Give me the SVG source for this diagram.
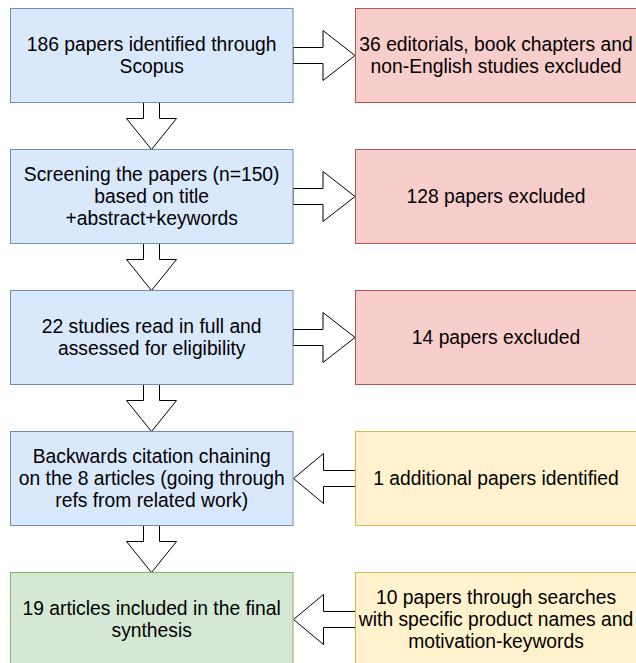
<svg xmlns="http://www.w3.org/2000/svg" width="636" height="663" viewBox="0 0 636 663">
<style>
.blue{fill:#dae8fc;stroke:#6c8ebf;stroke-width:1}
.red{fill:#f8cecc;stroke:#b85450;stroke-width:1}
.yellow{fill:#fff2cc;stroke:#d6b656;stroke-width:1}
.green{fill:#d5e8d4;stroke:#82b366;stroke-width:1}
.arrow{fill:#ffffff;stroke:#000000;stroke-width:1;stroke-linejoin:miter}
text{font-family:"Liberation Sans",Arial,Helvetica,sans-serif;font-size:19.3px;fill:#000000;text-anchor:middle}
</style>
<rect x="0" y="0" width="636" height="663" fill="#ffffff"/>
<g id="connectors">
<polygon class="arrow" points="293,47.5 323,47.5 323,30.5 355,55.5 323,80.5 323,63.5 293,63.5"/>
<polygon class="arrow" points="293,188.5 323,188.5 323,171.5 355,196.5 323,221.5 323,204.5 293,204.5"/>
<polygon class="arrow" points="293,329.5 323,329.5 323,312.5 355,337.5 323,362.5 323,345.5 293,345.5"/>
<polygon class="arrow" points="355.5,470.5 323.5,470.5 323.5,453.5 293.5,478.5 323.5,503.5 323.5,486.5 355.5,486.5"/>
<polygon class="arrow" points="355.5,611.5 323.5,611.5 323.5,594.5 293.5,619.5 323.5,644.5 323.5,627.5 355.5,627.5"/>
<polygon class="arrow" points="143.5,102.5 159.5,102.5 159.5,118.5 176.5,118.5 151.5,149.5 126.5,118.5 143.5,118.5"/>
<polygon class="arrow" points="143.5,243.5 159.5,243.5 159.5,259.5 176.5,259.5 151.5,290.5 126.5,259.5 143.5,259.5"/>
<polygon class="arrow" points="143.5,384.5 159.5,384.5 159.5,400.5 176.5,400.5 151.5,431.5 126.5,400.5 143.5,400.5"/>
<polygon class="arrow" points="143.5,525.5 159.5,525.5 159.5,541.5 176.5,541.5 151.5,572.5 126.5,541.5 143.5,541.5"/>
</g>
<g id="n1">
<rect class="blue" x="10.5" y="8.5" width="282.5" height="94"/>
<text x="151.7" y="51.2">186 papers identified through</text>
<text x="151.7" y="73.2">Scopus</text>
</g>
<g id="n2">
<rect class="red" x="355.5" y="8.5" width="281" height="94"/>
<text x="496" y="51.2">36 editorials, book chapters and</text>
<text x="496" y="73.2">non-English studies excluded</text>
</g>
<g id="n3">
<rect class="blue" x="10.5" y="149.5" width="282.5" height="94"/>
<text x="151.7" y="181.2">Screening the papers (n=150)</text>
<text x="151.7" y="203.2">based on title</text>
<text x="151.7" y="225.2">+abstract+keywords</text>
</g>
<g id="n4">
<rect class="red" x="355.5" y="149.5" width="281" height="94"/>
<text x="496" y="203.2">128 papers excluded</text>
</g>
<g id="n5">
<rect class="blue" x="10.5" y="290.5" width="282.5" height="94"/>
<text x="151.7" y="333.2">22 studies read in full and</text>
<text x="151.7" y="355.2">assessed for eligibility</text>
</g>
<g id="n6">
<rect class="red" x="355.5" y="290.5" width="281" height="94"/>
<text x="496" y="344.2">14 papers excluded</text>
</g>
<g id="n7">
<rect class="blue" x="10.5" y="431.5" width="282.5" height="94"/>
<text x="151.7" y="463.2">Backwards citation chaining</text>
<text x="151.7" y="485.2">on the 8 articles (going through</text>
<text x="151.7" y="507.2">refs from related work)</text>
</g>
<g id="n8">
<rect class="yellow" x="355.5" y="431.5" width="281" height="94"/>
<text x="496" y="485.2">1 additional papers identified</text>
</g>
<g id="n9">
<rect class="green" x="10.5" y="572.5" width="282.5" height="94"/>
<text x="151.7" y="615.2">19 articles included in the final</text>
<text x="151.7" y="637.2">synthesis</text>
</g>
<g id="n10">
<rect class="yellow" x="355.5" y="572.5" width="281" height="94"/>
<text x="496" y="604.2">10 papers through searches</text>
<text x="496" y="626.2">with specific product names and</text>
<text x="496" y="648.2">motivation-keywords</text>
</g>
</svg>
